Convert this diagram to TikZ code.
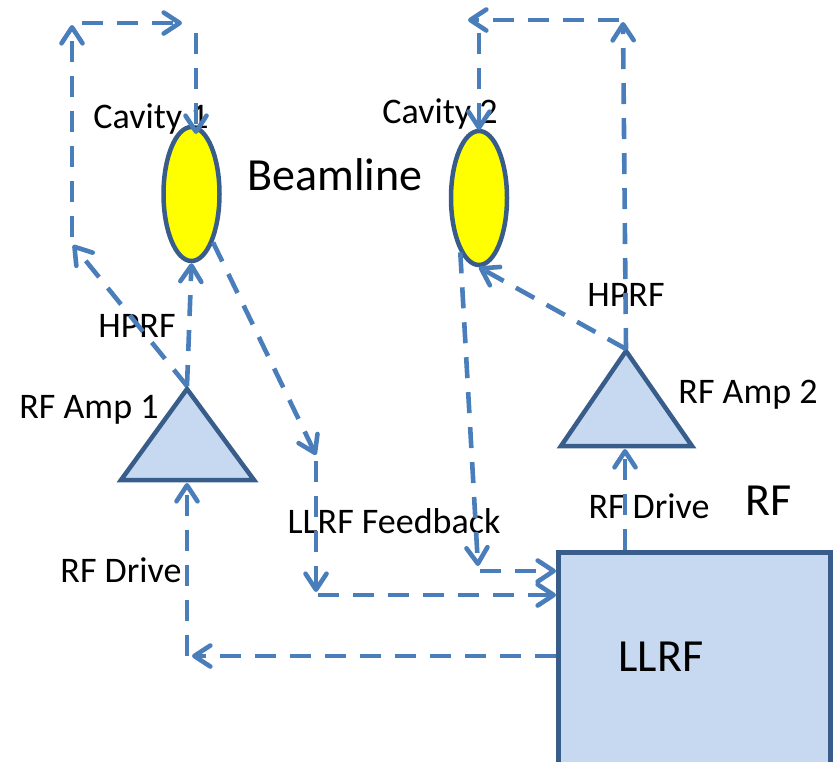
\documentclass[tikz,border=0pt]{standalone}
\usepackage{fontspec}
\setmainfont{Carlito}
\usetikzlibrary{arrows.meta,shapes.geometric}
\definecolor{linkblue}{HTML}{4A7EBB}
\definecolor{edgeblue}{HTML}{385D8A}
\definecolor{paleblue}{HTML}{C6D9F1}
\definecolor{cavyellow}{HTML}{FFFF00}

\begin{document}
\begin{tikzpicture}[x=1pt,y=-1pt,
  link/.style={draw=linkblue, line width=4.6pt, dash pattern=on 21pt off 14pt,
    -{Straight Barb[length=16pt,width=21pt,line cap=round,line join=round]}},
  cavity/.style={ellipse, draw=edgeblue, line width=4.5pt, fill=cavyellow,
    minimum width=56pt, minimum height=134pt, inner sep=0pt},
  ampshape/.style={draw=edgeblue, line width=4.5pt, fill=paleblue, line join=miter},
  boxshape/.style={rectangle, draw=edgeblue, line width=4.5pt, fill=paleblue,
    inner sep=0pt, anchor=north west},
  lbl/.style={font=\fontsize{36}{40}\selectfont, anchor=base, inner sep=0pt},
  biglbl/.style={font=\fontsize{46}{50}\selectfont, anchor=base, inner sep=0pt}]

\clip (0,0) rectangle (835,761);

% cavities on the beamline
\node[cavity] (cav1) at (191.5,194) {};
\node[cavity] (cav2) at (479,198) {};

% amplifiers
\draw[ampshape] (187,389) -- (121,480) -- (254,480) -- cycle;
\draw[ampshape] (626,351) -- (561,446) -- (692,446) -- cycle;
\coordinate (a1top) at (187,386);
\coordinate (a1base) at (187,483);
\coordinate (a2top) at (626,349);
\coordinate (a2base) at (625,449);

% low level RF controller
\node[boxshape, minimum width=272pt, minimum height=230pt] (llrf) at (556,550) {};

% labels
\node[lbl] (tcav1) at (151,128) {Cavity 1};
\node[lbl] (tcav2) at (440,123) {Cavity 2};
\node[biglbl] (tbeam) at (335,190) {Beamline};
\node[lbl] (thprf1) at (137,337) {HPRF};
\node[lbl] (thprf2) at (626,306) {HPRF};
\node[lbl] (tamp1) at (89,418) {RF Amp 1};
\node[lbl] (tamp2) at (748,403) {RF Amp 2};
\node[lbl] (tdrive1) at (121,582) {RF Drive};
\node[lbl] (tdrive2) at (649,518) {RF Drive};
\node[lbl] (tfb) at (394,533) {LLRF Feedback};
\node[biglbl] (trf) at (769,515) {RF};
\node[biglbl] (tllrf) at (661,671) {LLRF};

% loop around cavity 1
\coordinate (p1) at (73,245);
\coordinate (p2) at (72,237);
\coordinate (p3) at (72,25);
\coordinate (p4) at (82,23);
\coordinate (p5) at (182,23);
\coordinate (p6) at (196,33);
\coordinate (p7) at (196,134);
\draw[link] (a1top) -- (cav1.south);
\draw[link] (a1top) -- (p1);
\draw[link] (p2) -- (p3);
\draw[link] (p4) -- (p5);
\draw[link] (p6) -- (p7);

% loop around cavity 2
\coordinate (q1) at (623,22);
\coordinate (q2) at (619,20);
\coordinate (q3) at (468,20);
\coordinate (q4) at (479,33);
\coordinate (q5) at (479,130);
\draw[link] (a2top) -- (cav2.south);
\draw[link] (a2top) -- (q1);
\draw[link] (q2) -- (q3);
\draw[link] (q4) -- (q5);

% feedback from cavity 1
\coordinate (f1) at (316,455);
\coordinate (f2) at (316,461);
\coordinate (f3) at (316,592);
\coordinate (f4) at (318,595);
\draw[link] (cav1.-66) -- (f1);
\draw[link] (f2) -- (f3);
\draw[link] (f4) -- (llrf.west |- f4);

% feedback from cavity 2
\coordinate (g1) at (478,566);
\coordinate (g2) at (480,571);
\draw[link] (cav2.-109) -- (g1);
\draw[link] (g2) -- (llrf.west |- g2);

% RF drive lines
\coordinate (d1) at (192,656);
\coordinate (d2) at (187,656);
\draw[link] (llrf.west |- d1) -- (d1);
\draw[link] (d2) -- (a1base);
\draw[link] (llrf.north -| a2base) -- (a2base);
\end{tikzpicture}
\end{document}
